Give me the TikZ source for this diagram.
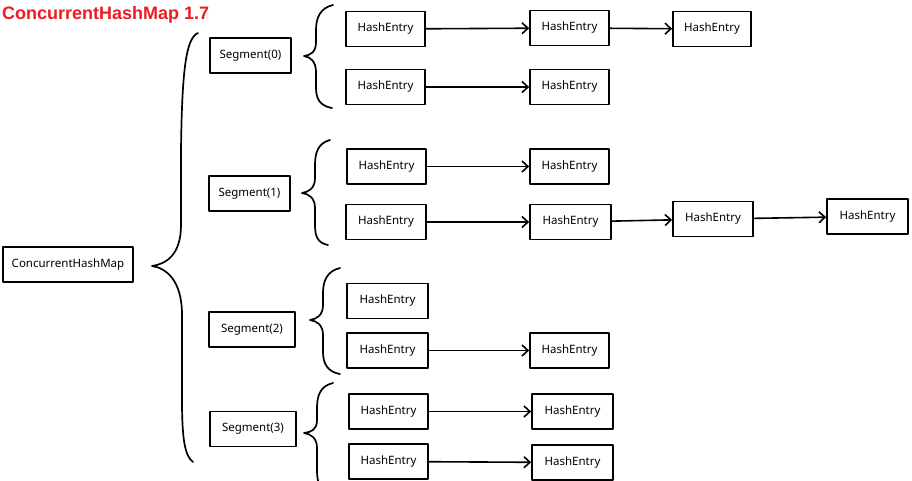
\documentclass[tikz,border=0pt]{standalone}
\usepackage{fontspec}
\setmainfont{Noto Sans}
\newfontfamily\titlefont{Liberation Sans}
\usetikzlibrary{arrows.meta}
\definecolor{titlered}{RGB}{236,28,36}

\tikzset{
  box/.style={draw, line width=1.7pt, minimum width=80pt, minimum height=35pt,
    inner sep=2pt, font=\fontsize{11.5}{13}\selectfont},
  link/.style={-{Straight Barb[length=6pt,width=11pt,line width=1.6pt]}, line width=1.6pt},
  brace/.style={line width=1.7pt, line cap=round}
}

\begin{document}
\begin{tikzpicture}[x=1pt, y=-1pt, line join=round]
\useasboundingbox (0,0) rectangle (912,480);

% Titolo
\node[anchor=west, text=titlered, font=\titlefont\fontsize{18}{21}\bfseries, inner sep=0pt] (title) at (2,14.5) {ConcurrentHashMap 1.7};

% Radice
\node[box, minimum width=130pt] (chm) at (68,264.5) {ConcurrentHashMap};

% Graffa grande
\draw[brace] (198,33) .. controls (186,38) and (182,70) .. (181,150)
  -- (181,225) .. controls (181,255) and (166,264) .. (152,266)
  .. controls (166,268) and (182,280) .. (182,315)
  -- (182,400) .. controls (182,440) and (185,456) .. (193,462);

% Segmenti
\node[box, minimum width=81pt] (seg0) at (250.5,55.5) {Segment(0)};
\node[box, minimum width=81pt] (seg1) at (249.5,193.5) {Segment(1)};
\node[box, minimum width=86pt] (seg2) at (252,329.5) {Segment(2)};
\node[box, minimum width=86pt] (seg3) at (253,429) {Segment(3)};

% Graffe piccole
\draw[brace] (333,5) .. controls (320,8) and (316,18) .. (316,30)
  -- (316,42) .. controls (316,52) and (311,55) .. (304,56)
  .. controls (311,57) and (316,62) .. (316,72)
  -- (316,88) .. controls (316,100) and (321,106) .. (332,108);
\draw[brace] (330,140) .. controls (318,143) and (315,153) .. (315,165)
  -- (315,178) .. controls (315,188) and (309,192) .. (302,193)
  .. controls (309,194) and (315,198) .. (315,208)
  -- (315,225) .. controls (315,237) and (318,243) .. (328,245);
\draw[brace] (340,268) .. controls (327,271) and (323,281) .. (323,293)
  -- (323,305) .. controls (323,315) and (317,319) .. (310,320)
  .. controls (317,321) and (323,325) .. (323,335)
  -- (323,352) .. controls (323,364) and (328,372) .. (340,374);
\draw[brace] (333,383) .. controls (320,386) and (317,396) .. (317,408)
  -- (317,420) .. controls (317,430) and (311,432) .. (304,433)
  .. controls (311,434) and (317,438) .. (317,448)
  -- (317,470) .. controls (317,478) and (318,482) .. (320,486);

% HashEntry - Segment(0)
\node[box, minimum width=79pt] (e0a) at (385.5,29) {HashEntry};
\node[box, minimum width=79pt] (e0b) at (569.5,28) {HashEntry};
\node[box, minimum width=78pt] (e0c) at (712,29) {HashEntry};
\node[box, minimum width=79pt] (e1a) at (385.5,87) {HashEntry};
\node[box, minimum width=79pt] (e1b) at (569.5,87) {HashEntry};

% HashEntry - Segment(1)
\node[box, minimum width=79pt] (e2a) at (386.5,166.5) {HashEntry};
\node[box, minimum width=79pt] (e2b) at (569.5,166.5) {HashEntry};
\node[box, minimum width=80pt] (e3a) at (386,222) {HashEntry};
\node[box, minimum width=81pt] (e3b) at (570.5,222) {HashEntry};
\node[box, minimum width=80pt] (e3c) at (713,219) {HashEntry};
\node[box, minimum width=81pt] (e3d) at (867.5,216.5) {HashEntry};

% HashEntry - Segment(2)
\node[box, minimum width=81pt] (e4a) at (387.5,301) {HashEntry};
\node[box, minimum width=81pt] (e5a) at (387.5,350.5) {HashEntry};
\node[box, minimum width=79pt] (e5b) at (569.5,350.5) {HashEntry};

% HashEntry - Segment(3)
\node[box, minimum width=79pt] (e6a) at (388.5,411.5) {HashEntry};
\node[box, minimum width=81pt] (e6b) at (572.5,411.5) {HashEntry};
\node[box, minimum width=79pt] (e7a) at (388.5,461.5) {HashEntry};
\node[box, minimum width=81pt] (e7b) at (572.5,462.5) {HashEntry};

% Collegamenti
\draw[link] (e0a) -- (e0b);
\draw[link] (e0b) -- (e0c);
\draw[link] (e1a) -- (e1b);
\draw[link] (e2a) -- (e2b);
\draw[link] (e3a) -- (e3b);
\draw[link] (e3b) -- (e3c);
\draw[link] (e3c) -- (e3d);
\draw[link] (e5a) -- (e5b);
\draw[link] (e6a) -- (e6b);
\draw[link] (e7a) -- (e7b);

\end{tikzpicture}
\end{document}
